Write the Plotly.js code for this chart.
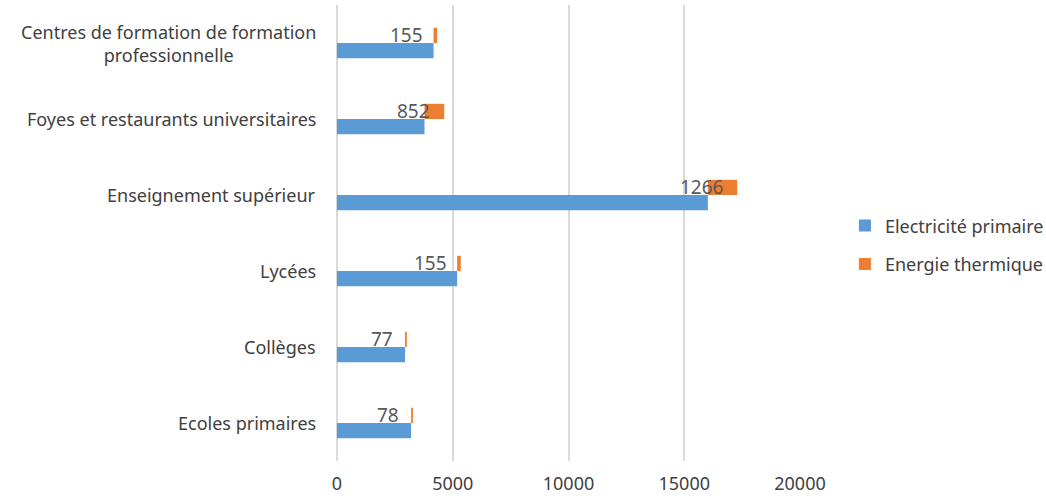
<!DOCTYPE html>
<html>
<head>
<meta charset="utf-8">
<script src="https://cdn.plot.ly/plotly-3.0.1.min.js"></script>
<style>html,body{margin:0;padding:0;background:#fff;}#chart{width:1046px;height:496px;}</style>
</head>
<body>
<div id="chart"></div>
<script>
const categories = ["Ecoles primaires", "Collèges", "Lycées", "Enseignement supérieur", "Foyes et restaurants universitaires", "Centres de formation de formation<br>professionnelle"];
const electricite = [3200, 2940, 5190, 16020, 3780, 4170];
const thermique = [78, 77, 155, 1266, 852, 155];
const seriesNames = ["Electricité primaire", "Energie thermique"];
const xTicks = [0, 5000, 10000, 15000, 20000];

const FONT = "Noto Sans, sans-serif";
const TXT = "#404040";

const traces = [
  {type: "bar", orientation: "h", y: categories, x: electricite, name: seriesNames[0],
   marker: {color: "#5b9bd5"}, legendgroup: "a", hoverinfo: "x"},
  {type: "bar", orientation: "h", y: categories, x: thermique, base: electricite, name: seriesNames[1],
   marker: {color: "#ed7d31"}, legendgroup: "b", hoverinfo: "x"}
];

const annotations = [];
categories.forEach((c, i) => {
  annotations.push({x: electricite[i] + thermique[i], y: c, xref: "x", yref: "y",
    text: String(thermique[i]), showarrow: false, xanchor: "right", yanchor: "middle",
    xshift: -12, yshift: 7.6, font: {family: FONT, size: 19, color: "#595959"}});
  annotations.push({x: -0.04, y: c, xref: "paper", yref: "y", text: c, showarrow: false,
    xanchor: "right", yanchor: "middle", align: "center",
    font: {family: FONT, size: 18, color: TXT}});
});

const layout = {
  width: 1046, height: 496,
  margin: {l: 337, r: 246, t: 5, b: 35, autoexpand: false},
  paper_bgcolor: "#fff", plot_bgcolor: "#fff",
  barmode: "group", bargap: 0.6, bargroupgap: 0,
  font: {family: FONT, size: 18, color: TXT},
  xaxis: {range: [0, 20000], tickvals: xTicks, ticktext: xTicks.map(String),
    showgrid: true, gridcolor: "#d9d9d9", gridwidth: 2,
    zeroline: true, zerolinecolor: "#d9d9d9", zerolinewidth: 2,
    showline: false, ticks: "", ticklabelstandoff: 10, automargin: false,
    tickfont: {family: FONT, size: 18, color: TXT}, fixedrange: true},
  yaxis: {type: "category", categoryorder: "array", categoryarray: categories,
    range: [-0.5, 5.5], showticklabels: false, showgrid: false, zeroline: false,
    showline: false, ticks: "", fixedrange: true, automargin: false},
  showlegend: true,
  legend: {x: 1.097, y: 0.474, xanchor: "left", yanchor: "middle",
    traceorder: "grouped", tracegroupgap: 12,
    font: {family: FONT, size: 18, color: TXT}, bgcolor: "rgba(0,0,0,0)"},
  annotations: annotations
};

Plotly.newPlot("chart", traces, layout, {displayModeBar: false, staticPlot: true});
</script>
</body>
</html>
